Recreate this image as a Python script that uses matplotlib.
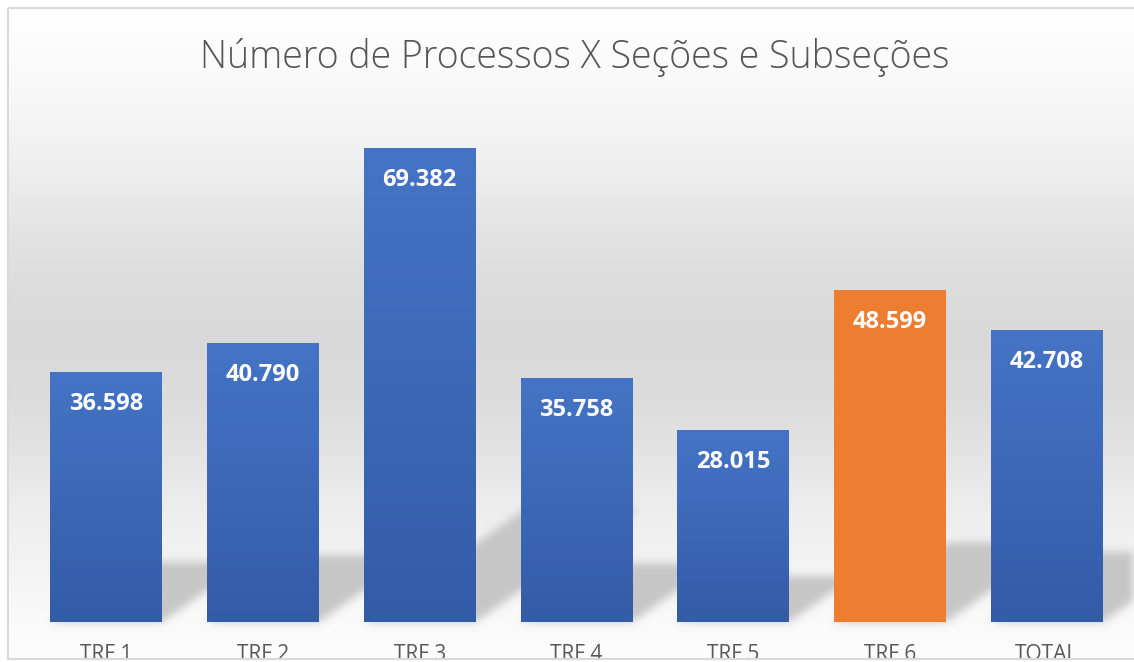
import matplotlib
matplotlib.use('Agg')
import matplotlib.pyplot as plt
import matplotlib.patches as patches
from matplotlib.collections import PolyCollection
from matplotlib.colors import to_rgb
import numpy as np

plt.rcParams['font.family'] = ['Open Sans', 'DejaVu Sans']

categories = ['TRF 1', 'TRF 2', 'TRF 3', 'TRF 4', 'TRF 5', 'TRF 6', 'TOTAL']
values = [36598, 40790, 69382, 35758, 28015, 48599, 42708]
value_labels = ['36.598', '40.790', '69.382', '35.758', '28.015', '48.599', '42.708']
highlight = ['TRF 6']
title = 'Número de Processos X Seções e Subseções'


class ShadowBlur:
    # soft shadow: blur the alpha of whatever the artist drew
    def __init__(self, sigma, color):
        self.sigma = sigma
        self.color = to_rgb(color)

    def __call__(self, im, dpi):
        pad = int(self.sigma * 3)
        a = np.pad(im[..., 3], pad, mode='constant')
        offs = np.arange(-pad, pad + 1)
        kern = np.exp(-0.5 * (offs / self.sigma) ** 2)
        kern /= kern.sum()
        b = np.zeros_like(a)
        for o, w in zip(offs, kern):
            b += w * np.roll(a, o, axis=0)
        c = np.zeros_like(a)
        for o, w in zip(offs, kern):
            c += w * np.roll(b, o, axis=1)
        out = np.zeros(a.shape + (4,))
        out[..., :3] = self.color
        out[..., 3] = c
        return out, -pad, -pad


W, H = 1134, 662
fig = plt.figure(figsize=(W / 100, H / 100), dpi=100)
fig.patch.set_facecolor('white')

# background gradient (white -> grey -> white)
bg = fig.add_axes([0, 0, 1, 1])
stops_y = [7, 60, 120, 170, 220, 280, 340, 400, 450, 500, 540, 580, 620, 660]
stops_v = [255, 251, 245, 238, 229, 221, 217, 220, 227, 236, 241, 245, 250, 253]
rows = np.arange(7, 661)
g = np.interp(rows, stops_y, stops_v) / 255
bg.imshow(np.repeat(g[:, None], 3, axis=1)[:, None, :], extent=(7, W + 10, 660, 7),
          aspect='auto', interpolation='bilinear')
bg.set_xlim(0, W); bg.set_ylim(H, 0); bg.axis('off')

# main axes
ax = fig.add_axes([27.6 / W, 40 / H, 1097.8 / W, 547 / H], zorder=2)
ax.patch.set_alpha(0)
n = len(categories)
x = np.arange(n)
bw = 0.714
ymax = 80000

# perspective shadows on the floor
px_x = 1097.8 / n
px_y = 547 / ymax
k, slope = 0.24, 0.7
polys = []
for xi, v in zip(x, values):
    sh = k * v
    dx = sh * px_y / slope / px_x
    polys.append([(xi - bw / 2, 0), (xi + bw / 2, 0), (xi + bw / 2 + dx, sh), (xi - bw / 2 + dx, sh)])
pc = PolyCollection(polys, facecolor='#c6c6c6', edgecolor='none', zorder=1, clip_on=False)
pc.set_agg_filter(ShadowBlur(3.0, '#c6c6c6'))
ax.add_collection(pc)

colors = ['#ED7D31' if c in highlight else '#4472C4' for c in categories]
bars = ax.bar(x, values, bw, color=colors, zorder=2)

top_c = np.array(to_rgb('#4574C6'))
bot_c = np.array(to_rgb('#335CA7'))
t = np.linspace(0, 1, 256)[:, None]
bar_grad = (top_c * (1 - t) + bot_c * t)[:, None, :]
for b, c in zip(bars, categories):
    if c in highlight:
        continue
    x0, w, h = b.get_x(), b.get_width(), b.get_height()
    im = ax.imshow(bar_grad, extent=(x0, x0 + w, 0, h), aspect='auto', zorder=3, origin='upper')
    im.set_clip_path(b)

for xi, v, lab in zip(x, values, value_labels):
    ax.annotate(lab, (xi, v), xytext=(0, -38 * 0.72), textcoords='offset points',
                ha='center', va='baseline', color='white', fontsize=17, fontweight='bold', zorder=4)

for xi, cat in zip(x, categories):
    ax.annotate(cat, (xi, 0), xytext=(0, -38 * 0.72), textcoords='offset points',
                ha='center', va='baseline', color='#595959', fontsize=15, annotation_clip=False)

ax.set_xlim(-0.5, n - 0.5)
ax.set_ylim(0, ymax)
ax.set_aspect('auto')
ax.axis('off')

fig.text(575 / W, 1 - 68.3 / H, title, ha='center', va='baseline', fontsize=27,
         color='#555555', fontweight='light')

# frame on top, clipping the category labels like the original
ov = fig.add_axes([0, 0, 1, 1], zorder=5)
ov.patch.set_alpha(0)
ov.set_xlim(0, W); ov.set_ylim(H, 0); ov.axis('off')
ov.add_patch(patches.Rectangle((0, 660.3), W, 5, color='white'))
ov.add_patch(patches.Rectangle((7.5, 7.5), W + 10, 651.8, fill=False, edgecolor='#d9d9d9', lw=1.44))

fig.savefig('out.png', dpi=100)
plt.close()
